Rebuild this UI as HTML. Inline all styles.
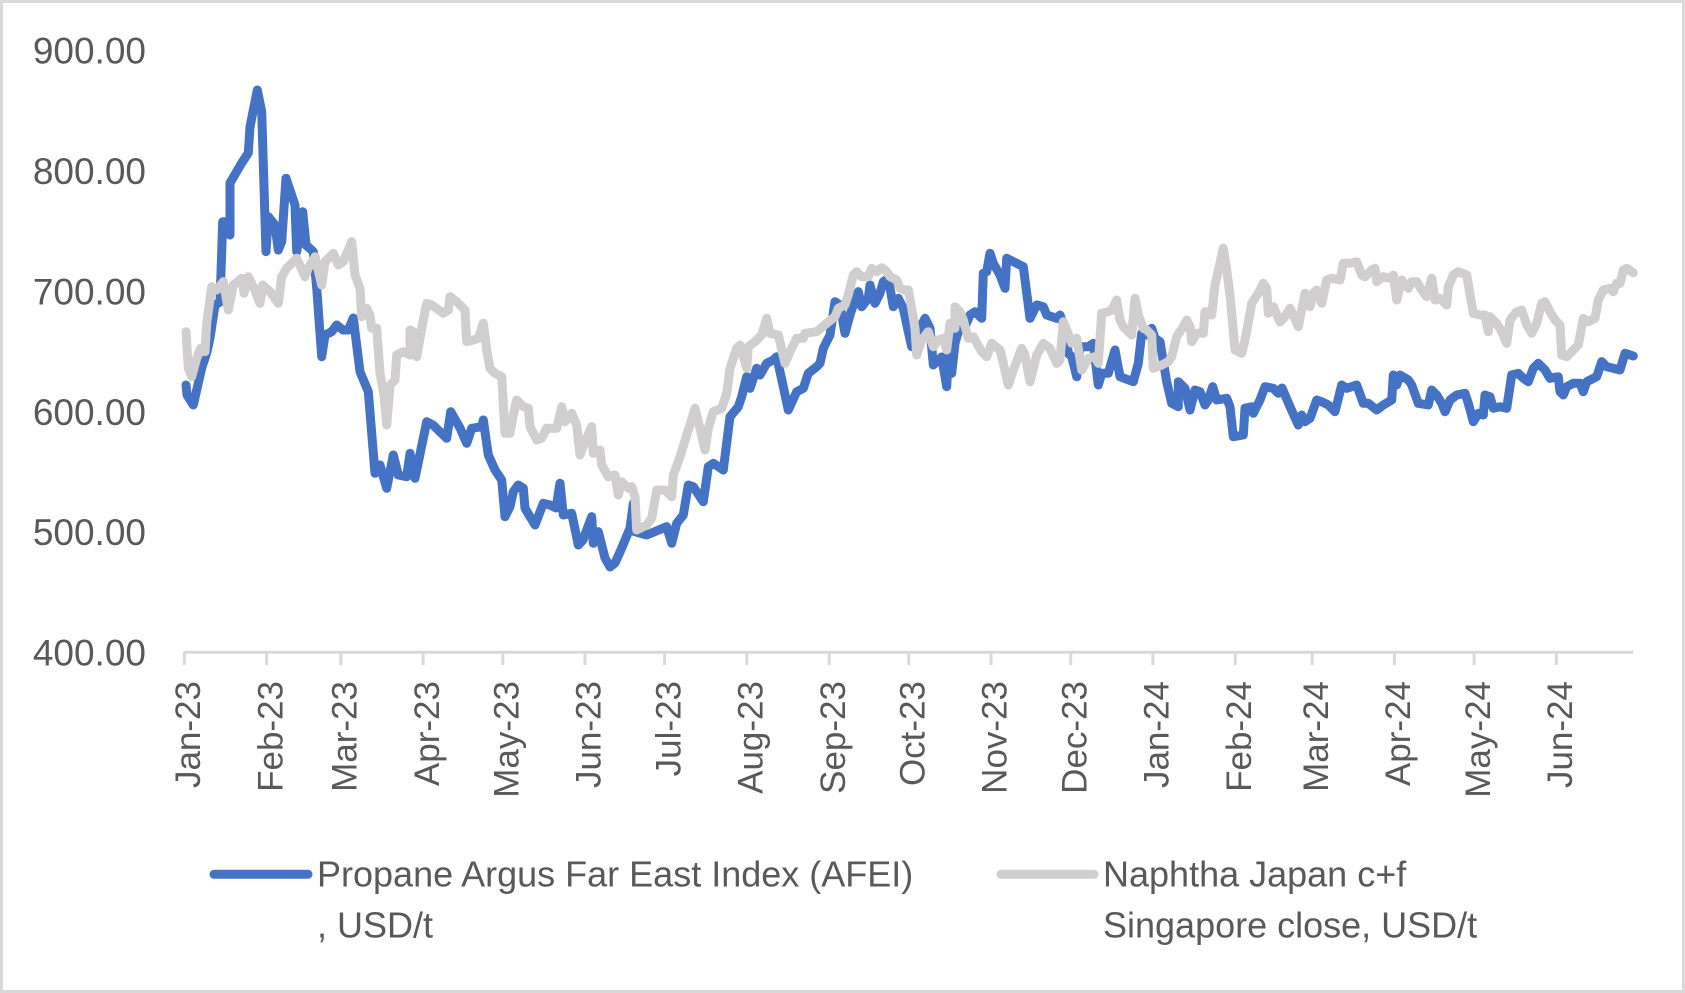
<!DOCTYPE html>
<html>
<head>
<meta charset="utf-8">
<style>
  html, body { margin: 0; padding: 0; background: #ffffff; }
  body { width: 1685px; height: 993px; overflow: hidden; }
  svg { display: block; }
  text { font-family: "Liberation Sans", "DejaVu Sans", sans-serif; fill: #595959; }
</style>
</head>
<body>
<svg width="1685" height="993" viewBox="0 0 1685 993" xmlns="http://www.w3.org/2000/svg">
  <rect x="1.5" y="1.5" width="1682" height="990" fill="#ffffff" stroke="#d9d9d9" stroke-width="3"/>

  <!-- Y axis labels -->
  <g font-size="37" text-anchor="end">
    <text x="146" y="63.6">900.00</text>
    <text x="146" y="184">800.00</text>
    <text x="146" y="304.4">700.00</text>
    <text x="146" y="424.8">600.00</text>
    <text x="146" y="545.2">500.00</text>
    <text x="146" y="665.6">400.00</text>
  </g>

  <!-- X axis -->
  <line x1="184.3" y1="652.3" x2="1633.3" y2="652.3" stroke="#d9d9d9" stroke-width="3"/>
  <g stroke="#d9d9d9" stroke-width="3">
    <line x1="184.3" y1="652" x2="184.3" y2="665"/>
    <line x1="266.6" y1="652" x2="266.6" y2="665"/>
    <line x1="340.9" y1="652" x2="340.9" y2="665"/>
    <line x1="423.1" y1="652" x2="423.1" y2="665"/>
    <line x1="502.8" y1="652" x2="502.8" y2="665"/>
    <line x1="585.0" y1="652" x2="585.0" y2="665"/>
    <line x1="664.6" y1="652" x2="664.6" y2="665"/>
    <line x1="746.9" y1="652" x2="746.9" y2="665"/>
    <line x1="829.2" y1="652" x2="829.2" y2="665"/>
    <line x1="908.8" y1="652" x2="908.8" y2="665"/>
    <line x1="991.0" y1="652" x2="991.0" y2="665"/>
    <line x1="1070.7" y1="652" x2="1070.7" y2="665"/>
    <line x1="1152.9" y1="652" x2="1152.9" y2="665"/>
    <line x1="1235.2" y1="652" x2="1235.2" y2="665"/>
    <line x1="1312.2" y1="652" x2="1312.2" y2="665"/>
    <line x1="1394.4" y1="652" x2="1394.4" y2="665"/>
    <line x1="1474.1" y1="652" x2="1474.1" y2="665"/>
    <line x1="1556.3" y1="652" x2="1556.3" y2="665"/>
  </g>
  <g font-size="35" text-anchor="end">
    <text transform="translate(200,681) rotate(-90)">Jan-23</text>
    <text transform="translate(282.3,681) rotate(-90)">Feb-23</text>
    <text transform="translate(356.6,681) rotate(-90)">Mar-23</text>
    <text transform="translate(438.8,681) rotate(-90)">Apr-23</text>
    <text transform="translate(518.5,681) rotate(-90)">May-23</text>
    <text transform="translate(600.7,681) rotate(-90)">Jun-23</text>
    <text transform="translate(680.3,681) rotate(-90)">Jul-23</text>
    <text transform="translate(762.6,681) rotate(-90)">Aug-23</text>
    <text transform="translate(844.9,681) rotate(-90)">Sep-23</text>
    <text transform="translate(924.5,681) rotate(-90)">Oct-23</text>
    <text transform="translate(1006.7,681) rotate(-90)">Nov-23</text>
    <text transform="translate(1086.4,681) rotate(-90)">Dec-23</text>
    <text transform="translate(1168.6,681) rotate(-90)">Jan-24</text>
    <text transform="translate(1250.9,681) rotate(-90)">Feb-24</text>
    <text transform="translate(1327.9,681) rotate(-90)">Mar-24</text>
    <text transform="translate(1410.1,681) rotate(-90)">Apr-24</text>
    <text transform="translate(1489.8,681) rotate(-90)">May-24</text>
    <text transform="translate(1572,681) rotate(-90)">Jun-24</text>
  </g>

  <!-- Propane (blue) -->
  <polyline fill="none" stroke="#4472C4" stroke-width="9" stroke-linejoin="round" stroke-linecap="round" points="
186,385 187,395 193.3,405 201.7,368 206.7,353 210,338 215,305 220,302 222.7,221.7 226.7,221.7 230,235 230,183 241.7,163 248.3,153 250,126.7 257.3,90 261.7,111.7 266,251.7 268.3,216.7 275,225 278.3,250 281.7,241.7 286,178.3 295,205 296.7,251.7 299.3,235 302.7,211.7 306,245 313.3,251.7 316.7,288 321.7,356.7 325,335 331.7,331.7 336.7,325 343,330 348.3,330 353.3,318 360,371.7 368.3,391.7 375,473.3 380,465 386.7,488.3 393.3,455 398.3,475 406.7,476.7 410,453.3 415,478.3 426.7,421.7 433,425 446.7,438.3 450.7,411.7 460,428 466.7,443.3 471.7,428.3 481.7,426.7 483.3,420 488.3,455 495,470 501.7,480 505,516.7 510,506.7 513.3,491.7 518.3,485 523.3,488.3 525,508.3 535,525 543.3,503.3 550,505 556,508 560,483.3 563.3,515 571.7,513.3 578.3,545 583,540 591.7,516.7 593.3,543.3 598.3,531.7 605,558 610,567 615,563 620,552 630,528.3 633.3,503.3 635,531.7 646.7,535 666.7,526.7 671.7,543.3 676.7,523.3 683.3,515 688.3,485 693.3,486.7 703.3,501.7 708.3,466.7 713.3,463.3 723.3,470 730,416.7 738.3,406.7 741.7,396.7 746.7,376.7 750,388.3 756.7,368.3 760,375 766.7,363.3 773.3,360 776.7,356.7 783.3,386.7 788.3,410 796.7,391.7 803.3,388.3 808.3,373.3 816.7,366.7 820,363.3 823.3,348.3 830,335 835,301.7 840,305 845,333.3 850,315 853.3,305 858.3,291.7 861.7,306.7 868.3,298.3 870,285 875,303.3 880,293.3 883.3,281.7 888.3,278.3 893.3,306.7 898.3,298.3 903.3,308.3 908.3,331.7 911.7,346.7 916.7,341.7 920,328 925,318.3 930,328.3 933.3,365 938.3,360 941.7,357 946.7,386.7 948.3,353.3 951.7,373.3 955,343.3 958.3,331.7 965,326.7 970,315 975,311.7 981.7,318.3 983.3,273.3 986.7,271.7 990,253.3 993.3,263.3 1000,275 1005,288.3 1006.7,258.3 1023.3,266.7 1030,318.3 1036.7,305 1043.3,306.7 1046.7,315 1056.7,318.3 1060,315 1065,328.3 1068.3,353.3 1071.7,356.7 1076.7,376.7 1080,346.7 1088.3,346.7 1093.3,343.3 1098.3,385 1101.7,373.3 1108.3,373.3 1115,350 1120,376.7 1133.3,381.7 1138.3,363.3 1141.7,333.3 1146.7,335 1151.7,328.3 1155,338.3 1160,341.7 1166.7,381.7 1171.7,403.3 1178.3,406.7 1178.3,381.7 1185,388.3 1190,410 1195,390 1200,391.7 1205,405 1208.3,400 1212.7,386.7 1216.7,400 1226.7,398.3 1230,406.7 1233.3,436.7 1243.3,435 1245,408.3 1251.7,406.7 1253.3,413.3 1260,400 1265,386.7 1273.3,388.3 1278.3,393.3 1282,388 1285,395 1290,406.7 1298.3,425 1301.7,415 1305,421.7 1310,418.3 1316.7,400 1321.7,401.7 1328.3,405 1335,411.7 1341.7,385 1346.7,388.3 1356.7,385 1363.3,403.3 1368.3,403.3 1376.7,410 1383.3,405 1391.7,400 1393.3,375 1396.7,385 1400,375 1408.3,380 1411.7,385 1418.3,403.3 1428.3,405 1431.7,390 1436.7,395 1441.7,403.3 1445,411.7 1450,400 1456.7,395 1465,393.3 1468.3,403.3 1473.3,421.7 1478.3,413.3 1483.3,415 1485,395 1490,396.7 1493.3,408.3 1500,406.7 1506.7,408.3 1511.7,375 1518.3,373.3 1523.3,378.3 1528.3,381.7 1533.3,368.3 1538.3,363.3 1545,370 1550,378.3 1558.3,376.7 1560,391.7 1563.3,395 1566.7,386.7 1573.3,383.3 1580,383.3 1583.3,391.7 1586.7,381.7 1596.7,376.7 1601.7,361.7 1606.7,366.7 1613.3,368.3 1620,370 1625,353.3 1633.3,356"/>

  <!-- Naphtha (gray) -->
  <polyline fill="none" stroke="#D0CECE" stroke-width="9" stroke-linejoin="round" stroke-linecap="round" points="
186,331.7 188.3,368.3 191.7,376.7 196.7,358.3 200.7,348.3 205,351.7 206.7,323.3 211.7,286.7 216.7,290 223.3,281.7 228.3,310 233.3,285 241.7,278.3 244,293.3 248.3,276.7 253.3,286.7 260,303.3 262.7,285 270,291.7 278.3,303.3 281.7,276.7 286.7,268.3 296.7,258.3 305,276.7 308.3,268.3 315,256.7 321.7,285 325,261.7 333.3,253.3 338.3,265 343.3,261.7 351.7,241.7 355,275 360,288.3 361.7,316.7 366.7,308.3 370,315 371.7,328.3 376.7,328.3 380,373.3 384,395 386.7,425 390,385 395,380 396.7,355 403.3,351.7 410,355 410,330 413.3,331.7 416.7,356.7 421.7,328.3 426.7,303.3 431.7,305 443.3,313.3 448.3,310 450,296.7 456.7,301.7 465,310 466.7,341.7 473.3,340 478.3,338.3 483.3,323.3 486.7,350 490,368.3 495,373.3 501.7,376.7 505,433.3 510,433.3 513.3,415 516.7,400 523.3,406.7 528.3,408.3 530,426.7 536.7,440 541.7,438.3 546.7,428.3 550,428.3 556.7,428.3 561.7,406.7 565,421.7 571.7,413.3 576.7,425 580,455 585,441.7 591.7,426.7 593.3,453.3 600,450 601.7,465 608.3,476.7 615,475 618.3,495 621.7,481.7 628.3,488.3 631.7,486.7 635,496.7 636.7,530 646.7,525 651.7,518.3 656.7,490 665,490 671.7,496.7 673.3,475 680,456.7 686.7,435 690,425 695,408.3 700,428.3 705,450 708.3,428.3 713.3,411.7 721.7,408.3 726.7,393.3 730,368.3 736.7,348.3 740,345 746.7,368.3 748.3,346.7 755,341.7 761.7,335 766.7,318.3 770,333.3 778.3,335 785,363.3 790,351.7 796.7,338.3 803.3,338.3 805,333.3 816.7,331.7 826.7,323.3 835,316.7 838.3,308.3 845,305 848.3,295 853.3,275 856.7,271.7 861.7,276.7 868.3,276.7 871.7,268.3 876.7,271.7 881.7,267.7 886.7,271.7 890,276.7 896.7,280 900,288.3 905,290 908.3,290 911.7,308.3 915,328.3 916.7,355 921.7,340 928.3,331.7 933.3,346.7 938.3,340 943.3,338.3 946.7,350 950,323.3 955,328.3 955,306.7 960,311.7 963.3,320 968.3,338.3 973.3,336.7 981.7,351.7 986.7,356.7 991.7,343.3 1000,350 1003.3,363.3 1008.3,385 1013.3,370 1021.7,348.3 1025,355 1030,381.7 1036.7,355 1043.3,343.3 1050,348.3 1056.7,363.3 1060,360 1063.3,321.7 1066.7,330 1071.7,343.3 1076.7,338.3 1081.7,370 1088.3,358.3 1095,356.7 1098.3,363.3 1101.7,313.3 1108.3,311.7 1111.7,310 1116.7,300 1120,320 1123.3,326.7 1131.7,335 1135,298.3 1138.3,315 1143.3,328.3 1146.7,330 1151.7,335 1153.3,368.3 1161.7,365 1168.3,361.7 1171.7,356.7 1176.7,336.7 1183.3,326.7 1186.7,320 1190,326.7 1191.7,341.7 1196.7,333.3 1203.3,333.3 1205,311.7 1208.3,311.7 1211.7,315 1215,285 1223.3,248.3 1226.7,270 1230,295 1235,350 1241.7,353.3 1245,340 1250,313.3 1251.7,303.3 1258.3,293.3 1263.3,283.3 1266.7,288.3 1268.3,313.3 1273.3,306.7 1280,322 1285,316.7 1290,308.3 1293.3,315 1298.3,326.7 1301.7,310 1305,293.3 1310,306.7 1313.3,293.3 1316.7,290 1321.7,303.3 1326.7,280 1331.7,278.3 1340,280 1343.3,263.3 1350,263.3 1356.7,261.7 1361.7,275 1365,276.7 1371.7,270 1375,268.3 1376.7,281.7 1383.3,276.7 1390,278.3 1393.3,275 1395,286.7 1396.7,300 1401.7,280 1408.3,288.3 1411.7,281.7 1416.7,281.7 1421.7,290 1426.7,296.7 1431.7,278.3 1435,300 1440,298.3 1446.7,305 1448.3,286.7 1453.3,275 1458.3,271.7 1466.7,275 1473.3,313.3 1480,315 1485,315 1488.3,331.7 1490,316.7 1496.7,323.3 1501.7,331.7 1506.7,343.3 1510,320 1516.7,311.7 1521.7,310 1526.7,325 1531.7,333.3 1536.7,323.3 1541.7,303.3 1545,301.7 1550,311.7 1555,320 1560,325 1561.7,355 1566.7,356.7 1571.7,351.7 1578.3,345 1583.3,318.3 1588.3,321.7 1595,318.3 1598.3,300 1603.3,290 1610,288.3 1613.3,291.7 1616.7,283.3 1620,283.3 1623.3,270 1626.7,268.3 1633.3,272.7"/>

  <!-- Legend -->
  <line x1="214" y1="874.3" x2="308" y2="874.3" stroke="#4472C4" stroke-width="9" stroke-linecap="round"/>
  <g font-size="36">
    <text x="317" y="886.7">Propane Argus Far East Index (AFEI)</text>
    <text x="317" y="937.3">, USD/t</text>
  </g>
  <line x1="1001" y1="874.3" x2="1094" y2="874.3" stroke="#D0CECE" stroke-width="9" stroke-linecap="round"/>
  <g font-size="36">
    <text x="1103" y="886.7">Naphtha Japan c+f</text>
    <text x="1103" y="937.3">Singapore close, USD/t</text>
  </g>
</svg>
</body>
</html>
